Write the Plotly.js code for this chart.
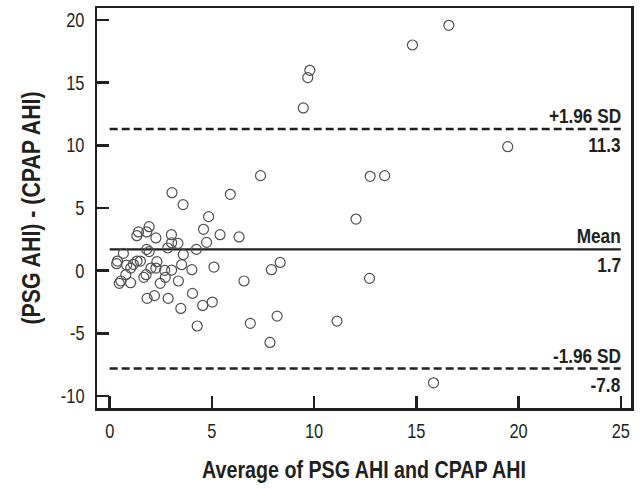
<!DOCTYPE html>
<html>
<head>
<meta charset="utf-8">
<script src="https://cdn.plot.ly/plotly-3.0.1.min.js"></script>
<style>html,body{margin:0;padding:0;background:#fff;}</style>
</head>
<body>
<div id="chart" style="width:642px;height:490px;"></div>
<script>
// Average of PSG AHI and CPAP AHI
const avgAHI = [16.59, 14.81, 9.79, 9.69, 9.47, 19.47, 7.38, 12.74, 13.45, 3.05, 5.9, 3.59, 12.05, 4.84, 4.59, 1.93, 1.41, 1.33, 1.81, 2.26, 3.02, 5.40, 6.33, 3.03, 3.34, 4.74, 2.84, 1.81, 1.93, 4.24, 0.67, 3.60, 0.38, 0.34, 0.83, 1.16, 1.34, 1.5, 2.31, 1.03, 2.02, 2.26, 3.03, 2.69, 3.52, 4.02, 5.10, 7.91, 8.34, 0.79, 1.78, 1.67, 2.72, 0.47, 0.55, 1.02, 2.47, 3.36, 6.57, 12.71, 4.05, 1.83, 2.19, 2.86, 3.48, 4.55, 5.02, 4.28, 6.88, 8.19, 11.12, 7.84, 15.84];
// Difference (PSG AHI) - (CPAP AHI)
const diffAHI = [19.57, 18.0, 15.98, 15.4, 12.98, 9.89, 7.58, 7.53, 7.58, 6.22, 6.09, 5.27, 4.12, 4.31, 3.30, 3.51, 3.09, 2.79, 3.09, 2.61, 2.87, 2.87, 2.69, 2.23, 2.18, 2.26, 1.81, 1.70, 1.52, 1.70, 1.38, 1.28, 0.77, 0.56, 0.45, 0.51, 0.77, 0.77, 0.72, 0.21, 0.21, 0.21, 0.05, 0.03, 0.48, 0.08, 0.29, 0.08, 0.66, -0.32, -0.32, -0.53, -0.53, -1.01, -0.82, -0.96, -1.01, -0.82, -0.82, -0.61, -1.81, -2.21, -1.99, -2.21, -3.01, -2.77, -2.50, -4.41, -4.2, -3.62, -4.02, -5.72, -8.94];

// Reference lines
const lineNames = ["+1.96 SD", "Mean", "-1.96 SD"];
const lineValues = [11.3, 1.7, -7.8];
const lineDash = ["dash", "solid", "dash"];
const lineSpan = [0, 25];

const xTicks = [0, 5, 10, 15, 20, 25];
const yTicks = [-10, -5, 0, 5, 10, 15, 20];

const xTitle = "Average of PSG AHI and CPAP AHI";
const yTitle = "(PSG AHI) - (CPAP AHI)";

const ink = "#231f20";
const FONT = "'Liberation Sans', Arial, sans-serif";
const NARROW = 0.82;

const traces = [];
lineValues.forEach((v, i) => {
  traces.push({
    type: "scatter", mode: "lines",
    x: lineSpan, y: [v, v],
    line: {color: ink, width: 2.4, dash: lineDash[i] === "dash" ? "8px,4px" : "solid"},
    hoverinfo: "skip", showlegend: false
  });
});
traces.push({
  type: "scatter", mode: "markers",
  x: avgAHI, y: diffAHI,
  marker: {symbol: "circle-open", size: 10, color: "#505050", line: {width: 1.2, color: "#505050"}},
  showlegend: false
});

const annotations = [];
lineValues.forEach((v, i) => {
  annotations.push({
    x: 25.1, y: v, xref: "x", yref: "y", xanchor: "right", yanchor: "bottom",
    text: "<b>" + lineNames[i] + "</b>", showarrow: false, yshift: 0,
    font: {family: FONT, size: 21, color: ink}
  });
  annotations.push({
    x: 25.1, y: v, xref: "x", yref: "y", xanchor: "right", yanchor: "top",
    text: "<b>" + v.toFixed(1) + "</b>", showarrow: false, yshift: -2,
    font: {family: FONT, size: 21, color: ink}
  });
});

const axisCommon = {
  showline: true, mirror: true, linecolor: ink, linewidth: 2.5,
  ticks: "inside", ticklen: 12, tickwidth: 2.5, tickcolor: ink,
  showgrid: false, zeroline: false,
  tickfont: {family: FONT, size: 20, color: ink}
};

const layout = {
  width: 642, height: 490,
  margin: {l: 97, r: 11, t: 8, b: 82},
  paper_bgcolor: "#fff", plot_bgcolor: "#fff",
  showlegend: false,
  xaxis: Object.assign({}, axisCommon, {
    range: [-0.62, 25.5], tickvals: xTicks, ticktext: xTicks.map(String),
    ticklabelstandoff: 4,
    title: {text: "<b>" + xTitle + "</b>", font: {family: FONT, size: 24, color: ink}, standoff: 20}
  }),
  yaxis: Object.assign({}, axisCommon, {
    range: [-10.95, 20.95], tickvals: yTicks, ticktext: yTicks.map(String),
    ticklabelstandoff: 6,
    title: {text: "<b>" + yTitle + "</b>", font: {family: FONT, size: 26, color: ink}, standoff: 8}
  }),
  annotations: annotations
};

Plotly.newPlot("chart", traces, layout, {displayModeBar: false, staticPlot: true}).then(() => {
  // Emulate a condensed (Arial Narrow-like) face by compressing text horizontally.
  document.querySelectorAll("#chart svg text").forEach(t => {
    let bb;
    try { bb = t.getBBox(); } catch (e) { return; }
    const inAnn = !!t.closest(".annotation");
    const anchor = t.getAttribute("text-anchor") || "start";
    let px;
    if (inAnn) px = bb.x + bb.width;
    else if (anchor === "middle") px = bb.x + bb.width / 2;
    else if (anchor === "end") px = bb.x + bb.width;
    else px = bb.x;
    const py = bb.y + bb.height / 2;
    const tr = t.getAttribute("transform") || "";
    t.setAttribute("transform", tr + " translate(" + px + "," + py + ") scale(" + NARROW + ",1) translate(" + (-px) + "," + (-py) + ")");
  });
});
</script>
</body>
</html>
